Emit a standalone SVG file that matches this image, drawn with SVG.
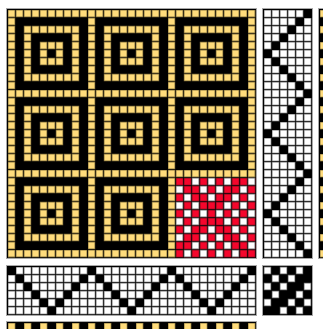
<svg xmlns="http://www.w3.org/2000/svg" width="323" height="329" viewBox="0 0 323 329">
<style>
.bg{fill:#000;stroke:#a8a8a8;stroke-width:1}
.y,.w,.r{stroke-width:1.4;paint-order:stroke}
.y{fill:#ffdc7c;stroke:#85713a}
.w{fill:#fff;stroke:#707070}
.r{fill:#f5062c;stroke:#7c0a1a}
.k{fill:#000}
</style>
<defs>
<pattern id="pw" width="8" height="8" patternUnits="userSpaceOnUse"><rect class="w" x=".5" y=".5" width="6.2" height="6.2"/></pattern>
<pattern id="pr" width="8" height="8" patternUnits="userSpaceOnUse"><rect class="r" x=".5" y=".5" width="6.2" height="6.2"/></pattern>
<pattern id="tile" width="80" height="80" patternUnits="userSpaceOnUse"><path class="y" d="M.5 .5h6v6h-6zM8.5 .5h6v6h-6zM16.5 .5h6v6h-6zM24.5 .5h6v6h-6zM32.5 .5h6v6h-6zM40.5 .5h6v6h-6zM48.5 .5h6v6h-6zM56.5 .5h6v6h-6zM64.5 .5h6v6h-6zM72.5 .5h6v6h-6z
M.5 8.5h6v6h-6z
M.5 16.5h6v6h-6zM16.5 16.5h6v6h-6zM24.5 16.5h6v6h-6zM32.5 16.5h6v6h-6zM40.5 16.5h6v6h-6zM48.5 16.5h6v6h-6zM56.5 16.5h6v6h-6zM64.5 16.5h6v6h-6z
M.5 24.5h6v6h-6zM16.5 24.5h6v6h-6zM64.5 24.5h6v6h-6z
M.5 32.5h6v6h-6zM16.5 32.5h6v6h-6zM32.5 32.5h6v6h-6zM40.5 32.5h6v6h-6zM48.5 32.5h6v6h-6zM64.5 32.5h6v6h-6z
M.5 40.5h6v6h-6zM16.5 40.5h6v6h-6zM32.5 40.5h6v6h-6zM48.5 40.5h6v6h-6zM64.5 40.5h6v6h-6z
M.5 48.5h6v6h-6zM16.5 48.5h6v6h-6zM32.5 48.5h6v6h-6zM40.5 48.5h6v6h-6zM48.5 48.5h6v6h-6zM64.5 48.5h6v6h-6z
M.5 56.5h6v6h-6zM16.5 56.5h6v6h-6zM64.5 56.5h6v6h-6z
M.5 64.5h6v6h-6zM16.5 64.5h6v6h-6zM24.5 64.5h6v6h-6zM32.5 64.5h6v6h-6zM40.5 64.5h6v6h-6zM48.5 64.5h6v6h-6zM56.5 64.5h6v6h-6zM64.5 64.5h6v6h-6z
M.5 72.5h6v6h-6z"/></pattern>
<pattern id="zigH" width="80" height="48" patternUnits="userSpaceOnUse"><path class="k" d="M0 0h8v8h-8zM8 8h8v8h-8zM16 16h8v8h-8zM24 24h8v8h-8zM32 32h8v8h-8zM40 40h8v8h-8zM48 32h8v8h-8zM56 24h8v8h-8zM64 16h8v8h-8zM72 8h8v8h-8z"/></pattern>
<pattern id="zigV" width="48" height="80" patternUnits="userSpaceOnUse"><path class="k" d="M40 0h8v8h-8zM32 8h8v8h-8zM24 16h8v8h-8zM16 24h8v8h-8zM8 32h8v8h-8zM0 40h8v8h-8zM8 48h8v8h-8zM16 56h8v8h-8zM24 64h8v8h-8zM32 72h8v8h-8z"/></pattern>
<pattern id="warp" width="16" height="8" patternUnits="userSpaceOnUse"><rect class="y" x=".5" y=".5" width="6.2" height="6.2"/></pattern>
<pattern id="weft" width="8" height="16" patternUnits="userSpaceOnUse"><rect class="y" x=".5" y=".5" width="6.2" height="6.2"/></pattern>
</defs>
<rect width="323" height="329" fill="#fff"/>
<g id="drawdown" transform="translate(8,10)">
<rect class="bg" x="-1.5" y="-1.5" width="250" height="250"/>
<rect width="248" height="248" fill="url(#tile)"/>
<rect x="168" y="168" width="80" height="80" fill="#000"/>
<rect x="168" y="168" width="80" height="80" fill="url(#pr)"/>
<path class="w" transform="translate(168,168)" d="M16.5 .5h6v6h-6zM32.5 .5h6v6h-6zM48.5 .5h6v6h-6zM72.5 .5h6v6h-6z
M.5 8.5h6v6h-6zM24.5 8.5h6v6h-6zM40.5 8.5h6v6h-6zM64.5 8.5h6v6h-6z
M8.5 16.5h6v6h-6zM32.5 16.5h6v6h-6zM56.5 16.5h6v6h-6zM72.5 16.5h6v6h-6z
M.5 24.5h6v6h-6zM16.5 24.5h6v6h-6zM48.5 24.5h6v6h-6zM64.5 24.5h6v6h-6z
M8.5 32.5h6v6h-6zM24.5 32.5h6v6h-6zM40.5 32.5h6v6h-6zM56.5 32.5h6v6h-6zM72.5 32.5h6v6h-6z
M.5 40.5h6v6h-6zM16.5 40.5h6v6h-6zM48.5 40.5h6v6h-6zM64.5 40.5h6v6h-6z
M8.5 48.5h6v6h-6zM32.5 48.5h6v6h-6zM56.5 48.5h6v6h-6zM72.5 48.5h6v6h-6z
M.5 56.5h6v6h-6zM24.5 56.5h6v6h-6zM40.5 56.5h6v6h-6zM64.5 56.5h6v6h-6z
M16.5 64.5h6v6h-6zM32.5 64.5h6v6h-6zM48.5 64.5h6v6h-6zM72.5 64.5h6v6h-6z
M8.5 72.5h6v6h-6zM24.5 72.5h6v6h-6zM40.5 72.5h6v6h-6zM56.5 72.5h6v6h-6z"/>
</g>
<g id="treadling" transform="translate(264,10)">
<rect class="bg" x="-1.5" y="-1.5" width="50" height="250"/>
<rect width="48" height="248" fill="url(#pw)"/>
<rect width="48" height="248" fill="url(#zigV)"/>
</g>
<g id="threading" transform="translate(8,267)">
<rect class="bg" x="-1.5" y="-1.5" width="250" height="50"/>
<rect width="248" height="48" fill="url(#pw)"/>
<rect width="248" height="48" fill="url(#zigH)"/>
</g>
<g id="tieup" transform="translate(264,267)">
<rect class="bg" x="-1.5" y="-1.5" width="50" height="50"/>
<path class="w" d="M.5 .5h6v6h-6zM16.5 .5h6v6h-6zM32.5 .5h6v6h-6z
M8.5 8.5h6v6h-6zM24.5 8.5h6v6h-6z
M.5 16.5h6v6h-6zM16.5 16.5h6v6h-6zM40.5 16.5h6v6h-6z
M8.5 24.5h6v6h-6zM32.5 24.5h6v6h-6z
M.5 32.5h6v6h-6zM24.5 32.5h6v6h-6zM40.5 32.5h6v6h-6z
M16.5 40.5h6v6h-6zM32.5 40.5h6v6h-6z"/>
</g>
<g id="weft-colours" transform="translate(320,10)">
<rect class="bg" x="-1.5" y="-1.5" width="10" height="250"/>
<rect width="8" height="248" fill="url(#weft)"/>
</g>
<g id="warp-colours" transform="translate(8,323)">
<rect class="bg" x="-1.5" y="-1.5" width="250" height="10"/>
<rect width="248" height="8" fill="url(#warp)"/>
</g>
</svg>
